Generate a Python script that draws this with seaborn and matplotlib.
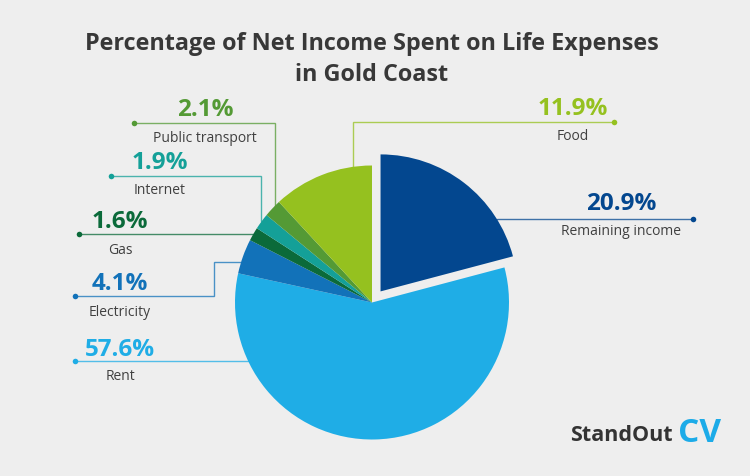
import matplotlib
matplotlib.use("Agg")
import matplotlib.pyplot as plt
import seaborn as sns

categories = ["Remaining income", "Rent", "Electricity", "Gas", "Internet", "Public transport", "Food"]
shares = [20.9, 57.6, 4.1, 1.6, 1.9, 2.1, 11.9]
colors = ["#03478f", "#1fade6", "#1272b9", "#0b6a3a", "#14a098", "#549a35", "#95c11f"]

BG = "#eeeeee"
W, H = 750, 477

# leader paths and label anchors, in picture pixels (y measured from the top)
leaders = {
    "Remaining income": [(693, 219.5), (497, 219.5)],
    "Rent": [(74.5, 362), (250, 362)],
    "Electricity": [(74.5, 297), (214, 297), (214, 263), (241, 263)],
    "Gas": [(79, 234.5), (255, 234.5)],
    "Internet": [(110.5, 177), (261, 177), (261, 222)],
    "Public transport": [(134, 124), (275, 124), (275, 207)],
    "Food": [(614, 123), (353, 123), (353, 170)],
}
label_pos = {
    "Remaining income": (621, 204, 232),
    "Rent": (120, 350, 377),
    "Electricity": (120, 284, 312),
    "Gas": (120, 222, 251),
    "Internet": (160, 163, 190),
    "Public transport": (205, 110, 138),
    "Food": (573, 109, 137),
}


def y_up(py):
    return H - py


def main():
    sns.set_theme(style="white")
    plt.rcParams["font.family"] = ["Open Sans", "DejaVu Sans"]

    fig = plt.figure(figsize=(7.5, 4.77), dpi=100, facecolor=BG)
    ax = fig.add_axes([0, 0, 1, 1])
    ax.set_facecolor(BG)

    # pie explode is in data units here, so it is pixels of offset
    explode = [14 if c == "Remaining income" else 0 for c in categories]
    wedges, _ = ax.pie(shares, colors=colors, explode=explode, startangle=90, counterclock=False,
                       radius=137, center=(372, y_up(303.5)), frame=True,
                       wedgeprops={"linewidth": 0, "zorder": 3})

    ax.set_xlim(0, W)
    ax.set_ylim(0, H)
    ax.set_aspect("equal")
    ax.axis("off")

    for cat, share, color in zip(categories, shares, colors):
        path = leaders[cat]
        xs = [p[0] for p in path]
        ys = [y_up(p[1]) for p in path]
        ax.plot(xs, ys, color=color, lw=1, alpha=0.75, zorder=2, solid_joinstyle="miter")
        ax.plot(xs[0], ys[0], "o", color=color, ms=4, mew=0, zorder=2)
        x, y_val, y_name = label_pos[cat]
        ax.text(x, y_up(y_val), f"{share}%", color=color, fontsize=17.5, fontweight="bold",
                ha="center", va="center")
        ax.text(x, y_up(y_name), cat, color="#404040", fontsize=10, ha="center", va="center")

    ax.text(372, y_up(44), "Percentage of Net Income Spent on Life Expenses", color="#383838",
            fontsize=16.85, fontweight="bold", ha="center", va="center")
    ax.text(372, y_up(75), "in Gold Coast", color="#383838",
            fontsize=16.85, fontweight="bold", ha="center", va="center")

    # logo
    ax.text(673, y_up(436), "StandOut", color="#333333", fontsize=15.5, fontweight="bold",
            ha="right", va="center")
    ax.text(678, y_up(434), "CV", color="#1cabe8", fontsize=24, fontweight="bold",
            ha="left", va="center")

    fig.savefig("out.png", dpi=100, facecolor=BG)
    plt.close(fig)


if __name__ == "__main__":
    main()
